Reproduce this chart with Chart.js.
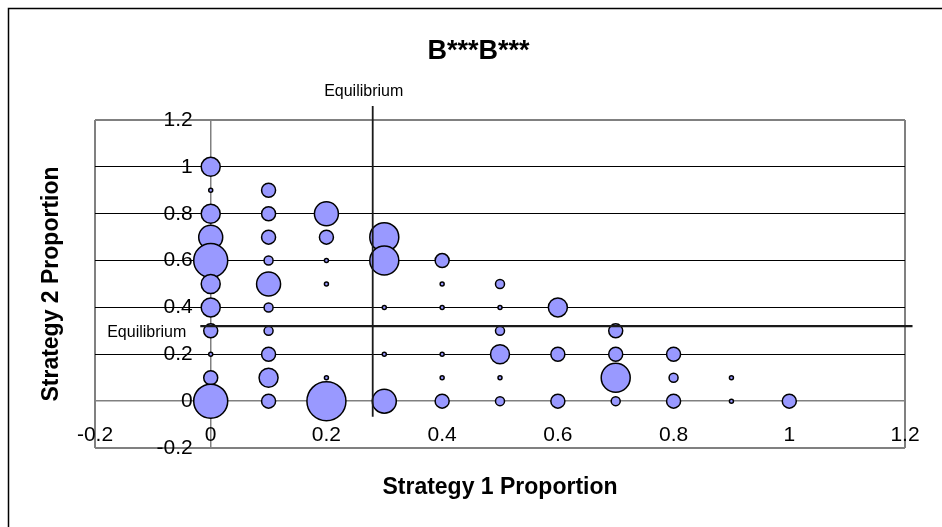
<!DOCTYPE html>
<html>
<head>
<meta charset="utf-8">
<script src="https://cdn.jsdelivr.net/npm/chart.js@4.4.1/dist/chart.umd.min.js"></script>
<style>
  html, body { margin: 0; padding: 0; background: #fff; }
  #wrap { width: 942px; height: 527px; position: relative; }
</style>
</head>
<body>
<div id="wrap"><canvas id="c" width="942" height="527"></canvas></div>
<script>
// Observed population states: proportion playing strategy 1 / strategy 2, and how often each occurred
const strategy1 = [
  0, 0, 0, 0, 0, 0, 0, 0, 0, 0, 0,
  0.1, 0.1, 0.1, 0.1, 0.1, 0.1, 0.1, 0.1, 0.1, 0.1,
  0.2, 0.2, 0.2, 0.2, 0.2, 0.2,
  0.3, 0.3, 0.3, 0.3, 0.3,
  0.4, 0.4, 0.4, 0.4, 0.4, 0.4,
  0.5, 0.5, 0.5, 0.5, 0.5, 0.5,
  0.6, 0.6, 0.6,
  0.7, 0.7, 0.7, 0.7,
  0.8, 0.8, 0.8,
  0.9, 0.9,
  1.0
];
const strategy2 = [
  1.0, 0.9, 0.8, 0.7, 0.6, 0.5, 0.4, 0.3, 0.2, 0.1, 0,
  0.9, 0.8, 0.7, 0.6, 0.5, 0.4, 0.3, 0.2, 0.1, 0,
  0.8, 0.7, 0.6, 0.5, 0.1, 0,
  0.7, 0.6, 0.4, 0.2, 0,
  0.6, 0.5, 0.4, 0.2, 0.1, 0,
  0.5, 0.4, 0.3, 0.2, 0.1, 0,
  0.4, 0.2, 0,
  0.3, 0.2, 0.1, 0,
  0.2, 0.1, 0,
  0.1, 0,
  0
];
const counts = [
  4, 1, 4, 5, 7, 4, 4, 3, 1, 3, 7,
  3, 3, 3, 2, 5, 2, 2, 3, 4, 3,
  5, 3, 1, 1, 1, 8,
  6, 6, 1, 1, 5,
  3, 1, 1, 1, 1, 3,
  2, 1, 2, 4, 1, 2,
  4, 3, 3,
  3, 3, 6, 2,
  3, 2, 3,
  1, 1,
  3
];

// Equilibrium point and the extent of its marker lines
const equilibriumS1 = 0.28;
const equilibriumS2 = 0.32;
const equilibriumS1Span = [-0.067, 1.26];
const equilibriumS2Span = [-0.018, 1.213];

// Axis ticks
const xTickValues = [-0.2, 0, 0.2, 0.4, 0.6, 0.8, 1, 1.2];
const xTickLabels = ['-0.2', '0', '0.2', '0.4', '0.6', '0.8', '1', '1.2'];
const yTickValues = [-0.2, 0, 0.2, 0.4, 0.6, 0.8, 1, 1.2];
const yTickLabels = ['-0.2', '0', '0.2', '0.4', '0.6', '0.8', '1', '1.2'];

const chartTitle = 'B***B***';
const xTitle = 'Strategy 1 Proportion';
const yTitle = 'Strategy 2 Proportion';
const equilibriumLabel = 'Equilibrium';

const FONT = "'Liberation Sans', Arial, Helvetica, sans-serif";
const near = (a, b) => Math.abs(a - b) < 1e-6;

const bubbles = strategy1.map((x, i) => ({ x, y: strategy2[i], r: counts[i] * 2.5 - 0.5 }));

const vLine = equilibriumS1Span.map(y => ({ x: equilibriumS1, y }));
const hLine = equilibriumS2Span.map(x => ({ x, y: equilibriumS2 }));

// Frame, titles and the equilibrium captions
const decorations = {
  id: 'decorations',
  beforeDraw(chart) {
    const ctx = chart.ctx;
    ctx.save();
    ctx.fillStyle = '#fff';
    ctx.fillRect(0, 0, chart.width, chart.height);
    ctx.strokeStyle = '#000';
    ctx.lineWidth = 1.5;
    ctx.strokeRect(8.5, 8.5, 1200, 1200);
    ctx.restore();
  },
  afterDatasetsDraw(chart) {
    const ctx = chart.ctx;
    const xs = chart.scales.x, ys = chart.scales.y;
    ctx.save();
    ctx.fillStyle = '#000';
    ctx.textAlign = 'center';
    ctx.textBaseline = 'middle';

    ctx.font = 'bold 27px ' + FONT;
    ctx.fillText(chartTitle, 478.5, 52);

    ctx.font = 'bold 23px ' + FONT;
    ctx.fillText(xTitle, (chart.chartArea.left + chart.chartArea.right) / 2, 488);

    ctx.save();
    ctx.translate(52, 284);
    ctx.rotate(-Math.PI / 2);
    ctx.fillText(yTitle, 0, 0);
    ctx.restore();

    ctx.font = '16px ' + FONT;
    ctx.fillText(equilibriumLabel, xs.getPixelForValue(equilibriumS1) - 9, ys.getPixelForValue(equilibriumS1Span[1]) - 14);
    ctx.textAlign = 'right';
    ctx.fillText(equilibriumLabel, xs.getPixelForValue(equilibriumS2Span[0]) - 14, ys.getPixelForValue(equilibriumS2) + 6);
    ctx.restore();
  }
};

const edgeOrZero = v => near(v, -0.2) || near(v, 1.2) || near(v, 0);

new Chart(document.getElementById('c'), {
  type: 'bubble',
  data: {
    datasets: [
      {
        type: 'scatter',
        data: vLine,
        showLine: true,
        pointRadius: 0,
        borderColor: '#1a1a1a',
        borderWidth: 1.8,
        clip: false
      },
      {
        type: 'scatter',
        data: hLine,
        showLine: true,
        pointRadius: 0,
        borderColor: '#1a1a1a',
        borderWidth: 2.2,
        clip: false
      },
      {
        data: bubbles,
        backgroundColor: '#9999ff',
        borderColor: '#000',
        borderWidth: 1.5,
        clip: false
      }
    ]
  },
  options: {
    responsive: false,
    animation: false,
    events: [],
    layout: { padding: { left: 95, right: 37, top: 120, bottom: 79 } },
    plugins: {
      legend: { display: false },
      tooltip: { enabled: false },
      title: { display: false }
    },
    scales: {
      x: {
        type: 'linear',
        min: -0.2,
        max: 1.2,
        position: { y: 0 },
        afterBuildTicks: s => { s.ticks = xTickValues.map(value => ({ value })); },
        ticks: {
          callback: v => xTickLabels[xTickValues.findIndex(t => near(t, v))],
          font: { family: FONT, size: 21 },
          color: '#000',
          padding: 21,
          maxRotation: 0,
          autoSkip: false
        },
        grid: {
          drawTicks: false,
          color: ctx => edgeOrZero(ctx.tick.value) ? '#808080' : 'rgba(0,0,0,0)',
          lineWidth: ctx => near(ctx.tick.value, 0) ? 1.5 : 2
        },
        border: { display: false }
      },
      y: {
        type: 'linear',
        min: -0.2,
        max: 1.2,
        // labels sit a little to the left of the vertical zero line
        position: { x: -0.031 },
        afterBuildTicks: s => { s.ticks = yTickValues.map(value => ({ value })); },
        ticks: {
          callback: v => yTickLabels[yTickValues.findIndex(t => near(t, v))],
          font: { family: FONT, size: 21 },
          color: '#000',
          autoSkip: false
        },
        grid: {
          drawTicks: false,
          color: ctx => edgeOrZero(ctx.tick.value) ? '#808080' : '#000',
          lineWidth: ctx => near(ctx.tick.value, 0) ? 1.5 : (edgeOrZero(ctx.tick.value) ? 2 : 1)
        },
        border: { display: false }
      }
    }
  },
  plugins: [decorations]
});
</script>
</body>
</html>
